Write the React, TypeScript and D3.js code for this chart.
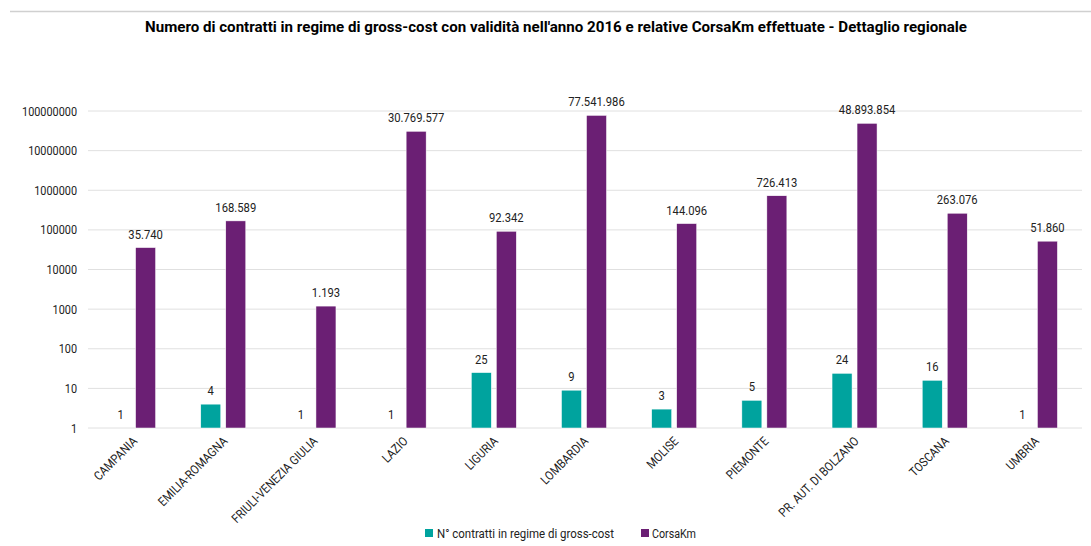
import React from "react";
import * as d3 from "d3";

const categories = ["CAMPANIA","EMILIA-ROMAGNA","FRIULI-VENEZIA GIULIA","LAZIO","LIGURIA","LOMBARDIA","MOLISE","PIEMONTE","PR. AUT. DI BOLZANO","TOSCANA","UMBRIA"];
const contratti = [1,4,1,1,25,9,3,5,24,16,1];
const corsaKm = [35740,168589,1193,30769577,92342,77541986,144096,726413,48893854,263076,51860];
const yTicks = [1,10,100,1000,10000,100000,1000000,10000000,100000000];
const seriesNames = ["N° contratti in regime di gross-cost","CorsaKm"];
const colors = ["#00A39E","#6B1F74"];
const title = "Numero di contratti in regime di gross-cost con validità nell'anno 2016 e relative CorsaKm effettuate - Dettaglio regionale";

const W = 1091, H = 546;
const FONT = "Roboto, 'Liberation Sans', sans-serif";
const fmt = (v: number) => d3.format(",")(v).replace(/,/g, ".");

function T({ x, y, sx = 0.88, rot = 0, anchor = "start", size = 12, weight = "normal", children }: any) {
  const tr = `translate(${x},${y})${rot ? ` rotate(${rot})` : ""} scale(${sx},1)`;
  return (
    <text transform={tr} textAnchor={anchor} fontSize={size} fontWeight={weight} fill="#222">
      {children}
    </text>
  );
}

export default function App() {
  const left = 88, right = 1080, top = 111, bottom = 428;
  const x = d3.scaleBand().domain(categories).range([left, right]).paddingInner(0).paddingOuter(0);
  const y = d3.scaleLog().domain([1, 100000000]).range([bottom, top]);
  const bw = 20, gap = 5;
  return (
    <div style={{ position: "absolute", left: 0, top: 0 }}>
      <svg width={W} height={H} style={{ display: "block", fontFamily: FONT }}>
        <rect width={W} height={H} fill="#fff" />
        <line x1={10} x2={W} y1={11.5} y2={11.5} stroke="#d0d0d0" strokeWidth={1.5} />
        <text x={145} y={32} fontSize={15.5} fontWeight="bold" fill="#000" textLength={822} lengthAdjust="spacingAndGlyphs">
          {title}
        </text>
        {yTicks.map((t) => (
          <g key={t}>
            <line x1={left} x2={right + 2} y1={y(t)} y2={y(t)} stroke="#e0e0e0" strokeWidth={1} />
            <T x={77} y={y(t) + 4.5} anchor="end" size={12.5} sx={0.87}>{t}</T>
          </g>
        ))}
        {categories.map((c, i) => {
          const cx = (x(c) as number) + x.bandwidth() / 2;
          const tx = cx - gap / 2 - bw;
          const px = cx + gap / 2;
          const ty = y(contratti[i]);
          const py = y(corsaKm[i]);
          return (
            <g key={c}>
              <rect x={tx} y={ty} width={bw} height={bottom - ty} fill={colors[0]} stroke="#fff" strokeWidth={0.5} />
              <rect x={px} y={py} width={bw} height={bottom - py} fill={colors[1]} stroke="#fff" strokeWidth={0.5} />
              <T x={tx + bw / 2} y={ty - 9} anchor="middle" size={12.5} sx={0.9}>{fmt(contratti[i])}</T>
              <T x={px + bw / 2} y={py - 9} anchor="middle" size={12.5} sx={0.9}>{fmt(corsaKm[i])}</T>
              <T x={cx + 5} y={442} rot={-45} anchor="end" size={12.5} sx={0.88}>{c}</T>
            </g>
          );
        })}
        <rect x={425} y={529} width={8} height={8} fill={colors[0]} />
        <text x={437} y={538} fontSize={12.5} fill="#222" textLength={177} lengthAdjust="spacingAndGlyphs">{seriesNames[0]}</text>
        <rect x={641} y={529} width={8} height={8} fill={colors[1]} />
        <text x={652} y={538} fontSize={12.5} fill="#222" textLength={44} lengthAdjust="spacingAndGlyphs">{seriesNames[1]}</text>
      </svg>
    </div>
  );
}
